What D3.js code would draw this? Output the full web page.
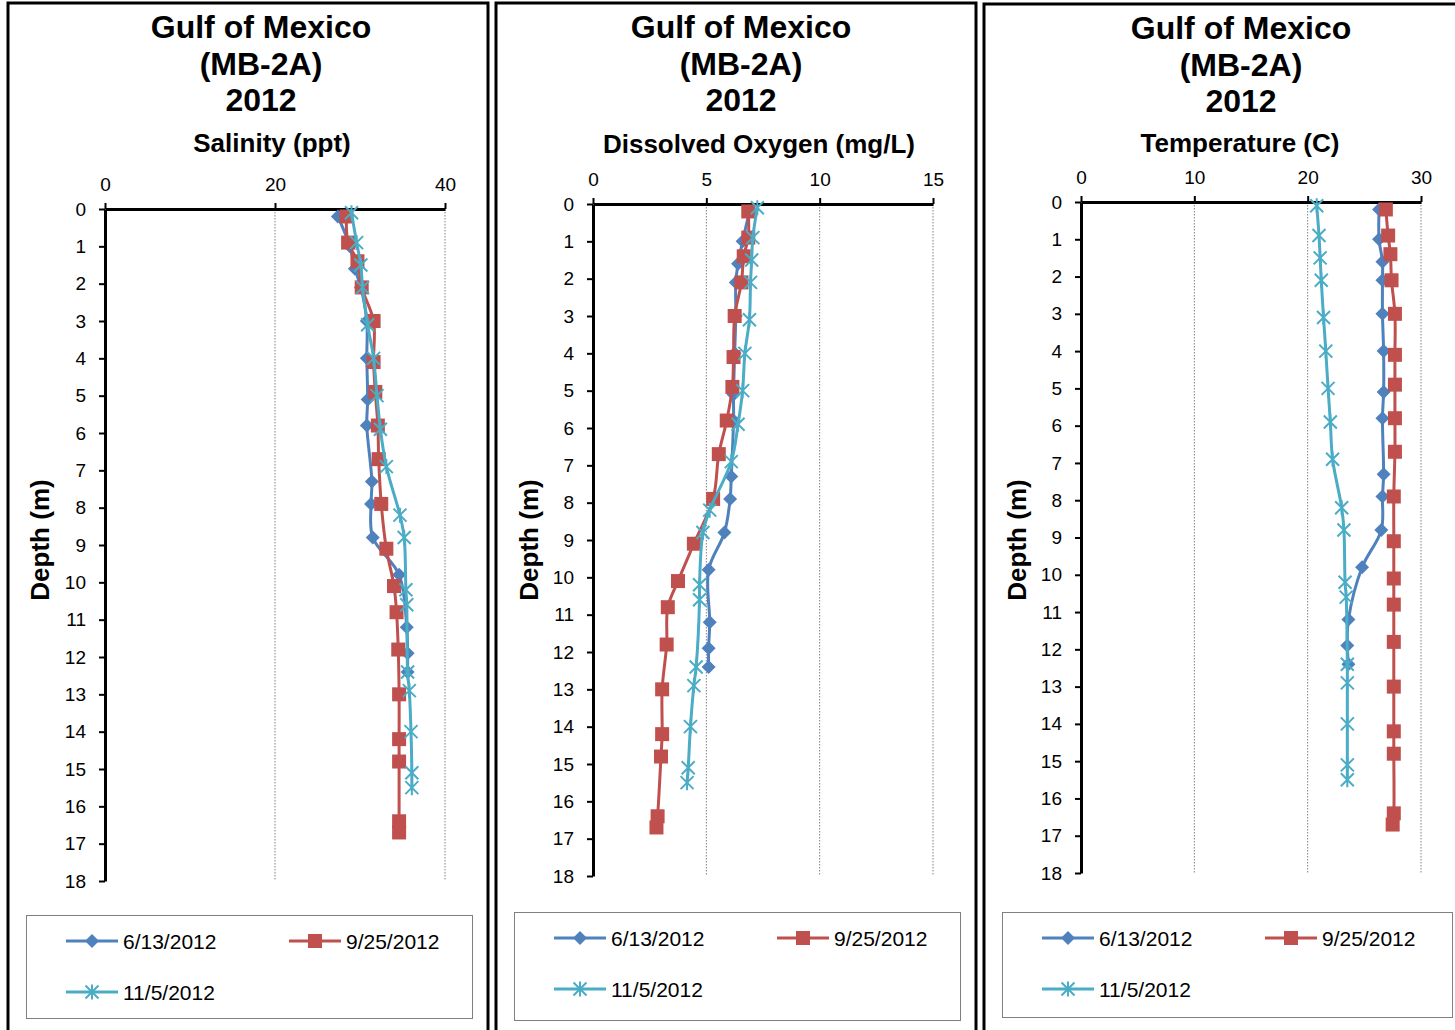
<!DOCTYPE html>
<html>
<head>
<meta charset="utf-8">
<script src="https://cdn.jsdelivr.net/npm/d3@7"></script>
<style>
  html, body { margin: 0; padding: 0; background: #fff; }
  svg { display: block; font-family: Arial, "Liberation Sans", sans-serif; }
</style>
</head>
<body>
<svg id="chart" width="1455" height="1030"></svg>
<script>
// Sampling dates (legend entries)
const seriesNames = ["6/13/2012", "9/25/2012", "11/5/2012"];

// Sample depths (m) for each cast
const depthJun = [0.2, 1.0, 1.6, 2.1, 3.0, 4.0, 5.1, 5.8, 7.3, 7.9, 8.8, 9.8, 11.2, 11.9, 12.4];
const depthSep = [0.2, 0.9, 1.4, 2.1, 3.0, 4.1, 4.9, 5.8, 6.7, 7.9, 9.1, 10.1, 10.8, 11.8, 13.0, 14.2, 14.8, 16.4, 16.7];
const depthNov = [0.1, 0.9, 1.5, 2.1, 3.1, 4.0, 5.0, 5.9, 6.9, 8.2, 8.8, 10.2, 10.6, 12.4, 12.9, 14.0, 15.1, 15.5];

// Salinity (ppt)
const salJun = [27.4, 28.8, 29.4, 30.1, 30.8, 30.8, 30.9, 30.8, 31.4, 31.3, 31.5, 34.6, 35.5, 35.6, 35.6];
const salSep = [28.4, 28.6, 29.7, 30.2, 31.6, 31.6, 31.8, 32.1, 32.2, 32.5, 33.1, 34.0, 34.3, 34.5, 34.6, 34.6, 34.6, 34.6, 34.6];
const salNov = [29.0, 29.6, 30.1, 30.3, 30.9, 31.6, 32.0, 32.4, 33.1, 34.7, 35.2, 35.4, 35.5, 35.6, 35.8, 36.0, 36.1, 36.1];

// Dissolved oxygen (mg/L)
const doJun = [6.9, 6.6, 6.4, 6.3, 6.3, 6.25, 6.2, 6.2, 6.1, 6.05, 5.8, 5.1, 5.15, 5.1, 5.1];
const doSep = [6.85, 6.85, 6.65, 6.55, 6.25, 6.2, 6.15, 5.9, 5.55, 5.3, 4.45, 3.75, 3.3, 3.25, 3.05, 3.05, 3.0, 2.85, 2.8];
const doNov = [7.25, 7.05, 7.0, 6.95, 6.9, 6.7, 6.6, 6.4, 6.1, 5.15, 4.85, 4.7, 4.7, 4.55, 4.45, 4.3, 4.2, 4.15];

// Temperature (C)
const tempJun = [26.3, 26.3, 26.6, 26.6, 26.6, 26.7, 26.7, 26.6, 26.7, 26.6, 26.5, 24.8, 23.6, 23.5, 23.6];
const tempSep = [26.9, 27.1, 27.3, 27.4, 27.7, 27.7, 27.7, 27.7, 27.7, 27.6, 27.6, 27.6, 27.6, 27.6, 27.6, 27.6, 27.6, 27.6, 27.5];
const tempNov = [20.8, 21.0, 21.1, 21.2, 21.4, 21.6, 21.8, 22.0, 22.2, 23.0, 23.2, 23.3, 23.4, 23.5, 23.5, 23.5, 23.5, 23.5];

// Axis tick labels
const depthTicks = [0, 1, 2, 3, 4, 5, 6, 7, 8, 9, 10, 11, 12, 13, 14, 15, 16, 17, 18];
const salTicks = [0, 20, 40];
const doTicks = [0, 5, 10, 15];
const tempTicks = [0, 10, 20, 30];

const titleLines = ["Gulf of Mexico", "(MB-2A)", "2012"];
const colors = ["#4F81BD", "#C0504D", "#4BACC6"];

const svg = d3.select("#chart");

const panels = [
  { label: "Salinity (ppt)", ticks: salTicks, series: [salJun, salSep, salNov],
    frame: [8, 3, 480], plot: [105, 445, 209, 881], titleX: 261, titleY: 38, subX: 272, subY: 152,
    depthX: 40, legend: [26, 915, 446, 103] },
  { label: "Dissolved Oxygen (mg/L)", ticks: doTicks, series: [doJun, doSep, doNov],
    frame: [496, 3, 480], plot: [593, 933, 204, 876], titleX: 741, titleY: 38, subX: 759, subY: 153,
    depthX: 529, legend: [514, 912, 446, 108] },
  { label: "Temperature (C)", ticks: tempTicks, series: [tempJun, tempSep, tempNov],
    frame: [984, 4, 480], plot: [1081, 1421, 202, 873], titleX: 1241, titleY: 39, subX: 1240, subY: 152,
    depthX: 1017, legend: [1002, 912, 450, 105] }
];
const depths = [depthJun, depthSep, depthNov];

// Marker drawing for each series: diamond, square, asterisk
function drawMarker(g, kind, cx, cy, color) {
  if (kind === 0) {
    const r = 7;
    g.append("path")
      .attr("d", `M${cx},${cy - r}L${cx + r},${cy}L${cx},${cy + r}L${cx - r},${cy}Z`)
      .attr("fill", color);
  } else if (kind === 1) {
    const s = 14;
    g.append("rect").attr("x", cx - s / 2).attr("y", cy - s / 2)
      .attr("width", s).attr("height", s).attr("fill", color);
  } else {
    const r = 6.5;
    g.append("path")
      .attr("d", `M${cx - r},${cy - r}L${cx + r},${cy + r}M${cx - r},${cy + r}L${cx + r},${cy - r}M${cx},${cy - r - 1}L${cx},${cy + r + 1}`)
      .attr("stroke", color).attr("stroke-width", 2).attr("fill", "none");
  }
}

panels.forEach(p => {
  const g = svg.append("g");
  const [fx, fy, fw] = p.frame;
  g.append("rect").attr("x", fx).attr("y", fy).attr("width", fw).attr("height", 1100)
    .attr("fill", "none").attr("stroke", "#000").attr("stroke-width", 3);

  // Titles
  titleLines.forEach((t, i) => {
    g.append("text").attr("x", p.titleX).attr("y", p.titleY + i * 36.5)
      .attr("text-anchor", "middle").attr("font-size", 32).attr("font-weight", "bold").text(t);
  });
  g.append("text").attr("x", p.subX).attr("y", p.subY)
    .attr("text-anchor", "middle").attr("font-size", 26).attr("font-weight", "bold").text(p.label);

  const [x0, x1, y0, y1] = p.plot;
  const x = d3.scaleLinear().domain([p.ticks[0], p.ticks[p.ticks.length - 1]]).range([x0, x1]);
  const y = d3.scaleLinear().domain([0, 18]).range([y0, y1]);

  // Vertical dotted gridlines
  g.append("g").selectAll("line").data(p.ticks.slice(1)).join("line")
    .attr("x1", d => x(d)).attr("x2", d => x(d)).attr("y1", y0).attr("y2", y1)
    .attr("stroke", "#808080").attr("stroke-width", 1).attr("stroke-dasharray", "1.5,1.5");

  // Depth axis
  const ya = g.append("g").attr("transform", `translate(${x0},0)`)
    .call(d3.axisLeft(y).tickValues(depthTicks).tickSize(6).tickSizeOuter(0).tickPadding(13));
  ya.select(".domain").attr("stroke-width", 3);
  ya.selectAll(".tick line").attr("stroke-width", 2);
  ya.selectAll(".tick text").attr("font-size", 19).attr("font-family", null).attr("fill", "#000");

  // Value axis across the top
  const xa = g.append("g").attr("transform", `translate(0,${y0})`)
    .call(d3.axisTop(x).tickValues(p.ticks).tickSize(6).tickSizeOuter(0).tickPadding(12));
  xa.select(".domain").attr("stroke-width", 3);
  xa.selectAll(".tick line").attr("stroke-width", 2);
  xa.selectAll(".tick text").attr("font-size", 19).attr("font-family", null).attr("fill", "#000");

  // Depth axis title
  g.append("text").attr("transform", `translate(${p.depthX + 9},540) rotate(-90)`)
    .attr("text-anchor", "middle").attr("font-size", 26).attr("font-weight", "bold").text("Depth (m)");

  // Profiles
  const line = d3.line().x(d => x(d[0])).y(d => y(d[1])).curve(d3.curveCatmullRom.alpha(0.5));
  p.series.forEach((vals, si) => {
    const pts = vals.map((v, i) => [v, depths[si][i]]);
    const sg = g.append("g");
    sg.append("path").attr("d", line(pts)).attr("fill", "none")
      .attr("stroke", colors[si]).attr("stroke-width", 3);
    pts.forEach(pt => drawMarker(sg, si, x(pt[0]), y(pt[1]), colors[si]));
  });

  // Legend
  const [lx, ly, lw, lh] = p.legend;
  const lg = g.append("g");
  lg.append("rect").attr("x", lx + 0.5).attr("y", ly + 0.5).attr("width", lw).attr("height", lh)
    .attr("fill", "#fff").attr("stroke", "#808080").attr("stroke-width", 1);
  const slots = [[lx + 40, ly + 26], [lx + 263, ly + 26], [lx + 40, ly + 77]];
  seriesNames.forEach((name, si) => {
    const [sx, sy] = slots[si];
    lg.append("line").attr("x1", sx).attr("x2", sx + 52).attr("y1", sy).attr("y2", sy)
      .attr("stroke", colors[si]).attr("stroke-width", 3);
    drawMarker(lg, si, sx + 26, sy, colors[si]);
    lg.append("text").attr("x", sx + 57).attr("y", sy + 7.5).attr("font-size", 21).text(name);
  });
});
</script>
</body>
</html>
